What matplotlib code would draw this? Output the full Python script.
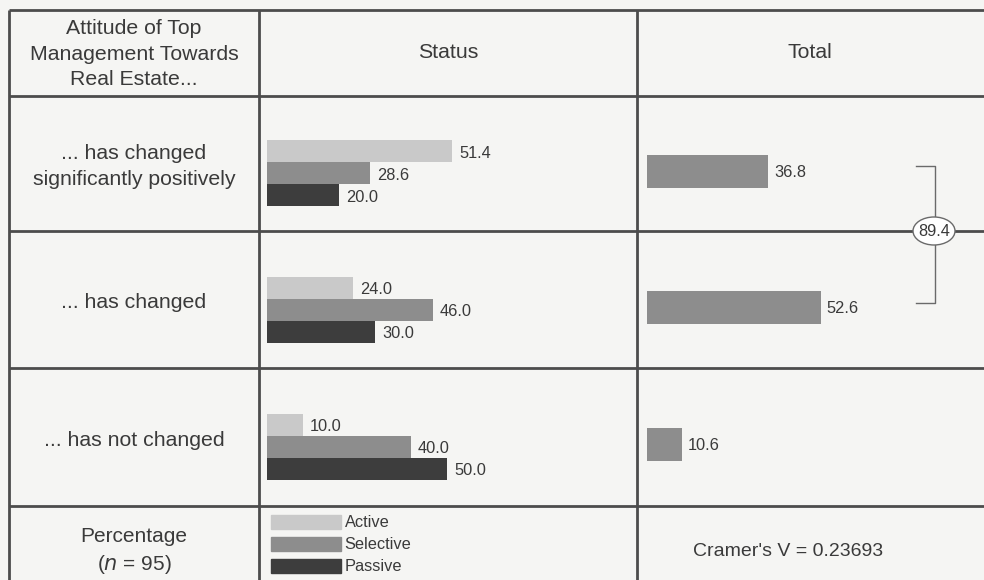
import matplotlib
matplotlib.use("Agg")
import matplotlib.pyplot as plt
from matplotlib.patches import Ellipse, Patch

plt.rcParams['font.family'] = ['Liberation Sans', 'DejaVu Sans']

# survey answers (percent), n = 95
rows = ['... has changed\nsignificantly positively', '... has changed', '... has not changed']
status_names = ['Active', 'Selective', 'Passive']
active = [51.4, 24.0, 10.0]
selective = [28.6, 46.0, 40.0]
passive = [20.0, 30.0, 50.0]
total = [36.8, 52.6, 10.6]
n_resp = 95
cramers_v = 0.23693

W, H = 984, 580
TXT = '#3a3a3a'
LINE = '#4c4c4c'
colors = ['#c9c9c9', '#8d8d8d', '#3d3d3d']
fig = plt.figure(figsize=(W / 100, H / 100), dpi=100)
fig.patch.set_facecolor('#f5f5f3')


def px_axes(left, top, right, bottom):
    return fig.add_axes([left / W, 1 - bottom / H, (right - left) / W, (bottom - top) / H])


# background layer in pixel units for the table grid and cell texts
bg = px_axes(0, 0, W, H)
bg.set_xlim(0, W)
bg.set_ylim(H, 0)
bg.axis('off')

col_x = [9, 259, 637]
row_y = [10, 96, 231, 368, 506]
for x in col_x:
    bg.plot([x, x], [row_y[0], H], color=LINE, lw=2.0, solid_capstyle='butt')
for y in row_y:
    bg.plot([col_x[0], W], [y, y], color=LINE, lw=2.0, solid_capstyle='butt')

bg.text(134, 54, 'Attitude of Top\nManagement Towards\nReal Estate...', ha='center', va='center',
        fontsize=15.3, color=TXT, linespacing=1.42)
bg.text(448, 53, 'Status', ha='center', va='center', fontsize=15.3, color=TXT)
bg.text(810, 53, 'Total', ha='center', va='center', fontsize=15.3, color=TXT)
for i, lab in enumerate(rows):
    yc = (row_y[i + 1] + row_y[i + 2]) / 2 + 3
    bg.text(134, yc, lab, ha='center', va='center', fontsize=15.3, color=TXT, linespacing=1.42)
bg.text(134, 537, 'Percentage', ha='center', va='center', fontsize=15, color=TXT)
bg.text(134, 564, '($n$ = %d)' % n_resp, ha='center', va='center', fontsize=15, color=TXT)
bg.text(788, 552, "Cramer's V = %.5f" % cramers_v, ha='center', va='center', fontsize=14, color=TXT)

# status bars
ax = px_axes(267, 96, 637, 506)
ax.set_xlim(0, 370 / 3.6)
ax.set_ylim(len(rows) - 0.5, -0.5)
ax.axis('off')
bh = 0.161
handles = []
for k, (name, vals) in enumerate(zip(status_names, [active, selective, passive])):
    ys = [i + 0.065 + (k - 1) * bh for i in range(len(rows))]
    ax.barh(ys, vals, height=bh, color=colors[k], label=name)
    handles.append(Patch(color=colors[k], label=name))
    for y, v in zip(ys, vals):
        ax.annotate('%.1f' % v, (v, y), xytext=(7, -2), textcoords='offset pixels',
                    ha='left', va='center', fontsize=11.8, color=TXT)

# total bars
ax2 = px_axes(647, 96, W, 506)
ax2.set_xlim(0, 337 / 3.3)
ax2.set_ylim(len(rows) - 0.5, -0.5)
ax2.axis('off')
ty = [i + 0.05 for i in range(len(rows))]
ax2.barh(ty, total, height=0.241, color=colors[1])
for y, v in zip(ty, total):
    ax2.annotate('%.1f' % v, (v, y), xytext=(6, -1), textcoords='offset pixels',
                 ha='left', va='center', fontsize=11.8, color=TXT)

# bracket summing the first two answers
tr = ax2.get_yaxis_transform()
ax2.plot([0.798, 0.855, 0.855, 0.798], [0.015, 0.015, 1.015, 1.015], color='#6a6a6a', lw=1.0,
         transform=tr, clip_on=False, zorder=3)
ax2.add_patch(Ellipse((934, 231), 42, 28, facecolor='white', edgecolor='#6a6a6a', lw=1.0,
                      transform=bg.transData, clip_on=False, zorder=5))
ax2.text(934, 231, '%.1f' % (total[0] + total[1]), ha='center', va='center', fontsize=11.8,
         color=TXT, transform=bg.transData, clip_on=False, zorder=6)

leg = fig.legend(handles=handles, loc='upper left', bbox_to_anchor=(271, 515), bbox_transform=bg.transData,
                 frameon=False, fontsize=11.8, handlelength=4.25, handleheight=0.9, labelspacing=0.4,
                 handletextpad=0.25, borderpad=0, borderaxespad=0)
for t in leg.get_texts():
    t.set_color(TXT)

fig.savefig('out.png', dpi=100, facecolor=fig.get_facecolor())
